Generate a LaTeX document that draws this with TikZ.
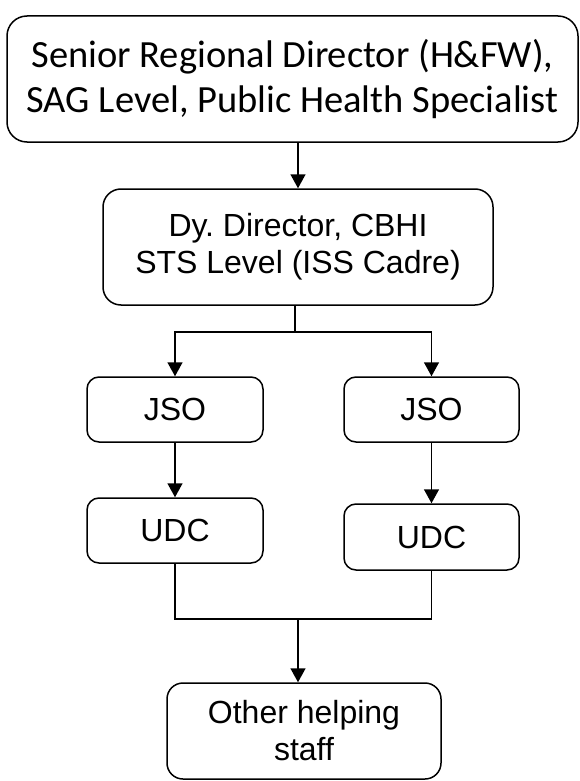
\documentclass[tikz,border=0pt]{standalone}
\usepackage{fontspec}
\setmainfont{Liberation Sans}
\newfontfamily\calibrifont{Carlito}
\usetikzlibrary{arrows.meta, positioning}

\begin{document}
\begin{tikzpicture}[x=1pt, y=1pt,
        box/.style={draw, line width=1.5pt, rounded corners=12pt, align=center, inner sep=0pt,
            font=\fontsize{32}{37}\selectfont},
        arr/.style={-{Triangle[width=15pt, length=14pt]}, line width=1.5pt}]
        \useasboundingbox (0,0) rectangle (579,-781);

        % Top level
        \node[box, rounded corners=20pt, minimum width=571pt, minimum height=126pt,
            font=\calibrifont\fontsize{38.5}{45}\selectfont] (srd) at (292.5,-79)
            {Senior Regional Director (H\&FW),\\SAG Level, Public Health Specialist};

        % Deputy director
        \node[box, rounded corners=18pt, minimum width=390pt, minimum height=116pt] (dydir) at (298,-247)
            {Dy.\ Director, CBHI\\STS Level (ISS Cadre)};

        % JSO and UDC columns
        \node[box, minimum width=176pt, minimum height=65pt] (jsoL) at (175,-409.5) {JSO};
        \node[box, minimum width=175pt, minimum height=65pt] (jsoR) at (431.5,-409.5) {JSO};
        \node[box, minimum width=176pt, minimum height=65pt] (udcL) at (175,-530.5) {UDC};
        \node[box, minimum width=175pt, minimum height=66pt] (udcR) at (431.5,-537) {UDC};

        % Bottom level
        \node[box, rounded corners=16pt, minimum width=274pt, minimum height=96pt] (staff) at (304,-731)
            {Other helping\\staff};

        % Connectors
        \coordinate (split) at (295,-332);
        \coordinate (merge) at (298,-619);
        \draw[arr] (srd.south -| dydir.north) -- (dydir.north);
        \draw[line width=1.5pt] (split |- dydir.south) -- (split);
        \draw[arr] (split) -| (jsoL.north);
        \draw[arr] (split) -| (jsoR.north);
        \draw[arr] (jsoL) -- (udcL);
        \draw[arr] (jsoR) -- (udcR);
        \draw[line width=1.5pt] (udcL.south) |- (merge) -| (udcR.south);
        \draw[arr] (merge) -- (merge |- staff.north);
    \end{tikzpicture}
\end{document}
